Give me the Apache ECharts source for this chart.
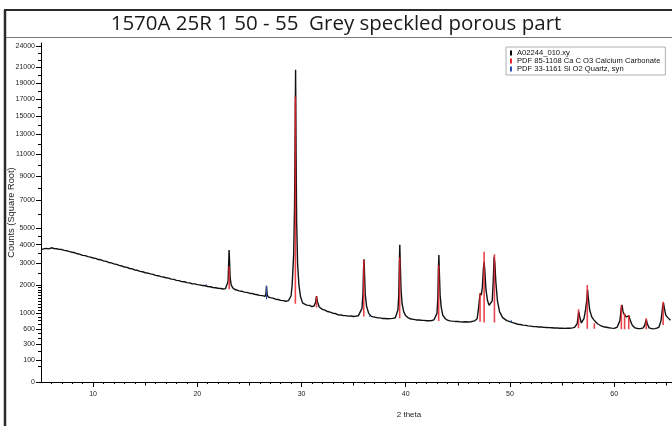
<!DOCTYPE html>
<html><head><meta charset="utf-8">
<script src="https://cdn.jsdelivr.net/npm/echarts@6/dist/echarts.min.js"></script>
<style>html,body{margin:0;padding:0;background:#fff}#c{width:672px;height:426px}</style>
</head><body><div id="c"></div>
<script>
// ---- data ----
const titleText = '1570A 25R 1 50 - 55  Grey speckled porous part';
const scanName = 'A02244_010.xy';
const calciteName = 'PDF 85-1108 Ca C O3 Calcium Carbonate';
const quartzName = 'PDF 33-1161 Si O2 Quartz, syn';

// measured scan: [2theta, counts]
const scan = [
[5.00,3720],[5.25,3765],[5.50,3790],[5.75,3760],[6.00,3825],[6.25,3785],[6.50,3770],[6.75,3735],[7.00,3725],[7.25,3680],
[7.50,3655],[7.75,3610],[8.00,3575],[8.25,3545],[8.50,3490],[8.75,3460],[9.00,3405],[9.25,3390],[9.50,3335],[9.75,3310],
[10.00,3265],[10.25,3245],[10.50,3185],[10.75,3170],[11.00,3115],[11.25,3090],[11.50,3035],[11.75,3010],[12.00,2965],[12.25,2935],
[12.50,2885],[12.75,2860],[13.00,2805],[13.25,2790],[13.50,2735],[13.75,2720],[14.00,2665],[14.25,2650],[14.50,2600],[14.75,2580],
[15.00,2535],[15.25,2520],[15.50,2480],[15.75,2460],[16.00,2415],[16.25,2400],[16.50,2360],[16.75,2340],[17.00,2305],[17.25,2290],
[17.50,2245],[17.75,2235],[18.00,2195],[18.25,2180],[18.50,2140],[18.75,2135],[19.00,2095],[19.25,2085],[19.50,2050],[19.75,2045],
[20.00,2015],[20.25,2005],[20.50,1975],[20.75,1965],[20.86,1990],[21.00,1935],[21.25,1925],[21.50,1895],[21.75,1885],[22.00,1865],
[22.25,1855],[22.50,1835],[22.70,1850],[22.85,1900],[22.95,2150],[23.00,2850],[23.05,3700],[23.10,3000],[23.15,2300],[23.25,2000],
[23.40,1880],[23.60,1815],[23.80,1795],[24.00,1765],[24.25,1750],[24.50,1715],[24.75,1705],[25.00,1675],[25.25,1665],[25.50,1635],
[25.75,1615],[26.00,1595],[26.25,1585],[26.50,1555],[26.58,1650],[26.64,1960],[26.70,1620],[26.80,1535],[27.00,1510],[27.25,1495],
[27.50,1455],[27.75,1445],[28.00,1415],[28.25,1405],[28.50,1385],[28.75,1405],[28.90,1450],[29.00,1580],[29.10,2000],[29.25,3500],
[29.33,6500],[29.38,12000],[29.43,20700],[29.48,11000],[29.53,5500],[29.62,3000],[29.75,2000],[29.90,1550],[30.10,1330],[30.30,1285],
[30.50,1255],[30.75,1245],[31.00,1205],[31.20,1225],[31.35,1350],[31.44,1570],[31.52,1380],[31.70,1195],[32.00,1120],[32.25,1095],
[32.50,1055],[32.75,1035],[33.00,1005],[33.25,995],[33.50,960],[33.75,955],[34.00,940],[34.25,935],[34.50,920],[34.75,925],
[35.00,912],[35.25,922],[35.45,930],[35.60,955],[35.80,1150],[35.90,1700],[35.95,2700],[36.00,3200],[36.05,2400],[36.12,1600],
[36.25,1200],[36.45,1000],[36.54,960],[36.70,915],[37.00,895],[37.25,878],[37.50,872],[37.75,858],[38.00,857],[38.25,848],
[38.50,852],[38.75,860],[39.00,875],[39.10,900],[39.25,1100],[39.33,1600],[39.38,2800],[39.43,4000],[39.48,2900],[39.55,1800],
[39.65,1300],[39.80,1050],[40.00,930],[40.25,872],[40.50,843],[40.75,832],[41.00,818],[41.25,816],[41.50,808],[41.75,806],
[42.00,798],[42.25,797],[42.50,802],[42.70,818],[42.85,842],[43.00,1000],[43.08,1500],[43.13,2600],[43.18,3430],[43.23,2500],
[43.30,1600],[43.40,1200],[43.55,950],[43.80,850],[44.00,812],[44.25,794],[44.50,786],[44.75,779],[45.00,776],[45.25,768],
[45.50,766],[45.75,771],[46.00,764],[46.25,772],[46.40,780],[46.60,792],[46.85,850],[47.00,1200],[47.10,1550],[47.17,1680],
[47.25,1600],[47.35,1900],[47.45,2700],[47.52,3070],[47.58,2700],[47.70,1800],[47.85,1400],[48.00,1250],[48.15,1200],[48.30,1400],
[48.40,2200],[48.48,3330],[48.55,3000],[48.65,2100],[48.80,1400],[49.00,1050],[49.30,880],[49.70,800],[50.00,772],[50.25,748],
[50.50,732],[50.75,708],[51.00,702],[51.25,688],[51.50,682],[51.75,668],[52.00,662],[52.25,652],[52.50,651],[52.75,643],
[53.00,641],[53.25,633],[53.50,632],[53.75,627],[54.00,626],[54.25,619],[54.50,622],[54.75,614],[55.00,613],[55.25,610],
[55.50,616],[55.75,613],[56.00,621],[56.20,632],[56.45,720],[56.60,1050],[56.70,900],[56.85,740],[56.96,730],[57.10,850],
[57.25,1100],[57.38,1450],[57.45,1800],[57.52,1500],[57.65,1100],[57.85,900],[58.05,820],[58.20,800],[58.40,720],[58.60,690],
[58.80,662],[59.00,648],[59.25,636],[59.50,624],[59.75,616],[60.00,611],[60.15,620],[60.30,640],[60.55,800],[60.68,1150],
[60.75,1260],[60.85,1050],[60.95,980],[61.05,1020],[61.15,900],[61.30,880],[61.42,930],[61.55,800],[61.75,680],[62.00,622],
[62.25,608],[62.50,604],[62.65,610],[62.80,622],[62.95,700],[63.08,830],[63.18,720],[63.35,622],[63.50,606],[63.70,600],
[63.90,604],[64.10,616],[64.30,642],[64.50,800],[64.65,1200],[64.73,1330],[64.82,1150],[64.95,950],[65.15,880],[65.40,810]
];

// reference patterns (stick lines): position, base counts, top counts
const calciteTheta = [23.06, 29.41, 31.44, 35.97, 39.42, 43.16, 47.13, 47.52, 48.51, 56.58, 57.42, 58.10, 60.69, 61.00, 61.40, 63.08, 64.70];
const calciteBase  = [1830, 1300, 1180, 910, 860, 790, 770, 750, 750, 612, 600, 600, 590, 590, 590, 590, 690];
const calciteTop   = [2850, 17300, 1560, 3160, 3300, 2900, 1670, 3600, 3460, 1120, 2000, 730, 1260, 1000, 950, 860, 1370];

const quartzTheta = [20.86, 26.64, 36.54, 50.14];
const quartzBase  = [1960, 1450, 900, 760];
const quartzTop   = [2030, 1960, 950, 810];

// axes
const yTickLabels = [0, 100, 300, 600, 1000, 2000, 3000, 4000, 5000, 7000, 9000, 11000, 13000, 15000, 17000, 19000, 21000, 24000];
const yMinorTicks = [50, 200, 400, 500, 700, 800, 900, 1100, 1200, 1300, 1400, 1500, 1600, 1700, 1800, 1900, 2500, 3500, 4500,
  6000, 8000, 10000, 12000, 14000, 16000, 18000, 20000, 22000, 23000];
const yTopCounts = 24400;
const xMajorTicks = [10, 20, 30, 40, 50, 60];
const xMidTicks = [15, 25, 35, 45, 55, 65];
const xMinorTicks = [6,7,8,9,11,12,13,14,16,17,18,19,21,22,23,24,26,27,28,29,31,32,33,34,36,37,38,39,41,42,43,44,46,47,48,49,51,52,53,54,56,57,58,59,61,62,63,64];
const xMin = 5, xMax = 65.55;

// ---- build ----
const sq = Math.sqrt;
const curve = scan.map(p => [p[0], sq(p[1])]);
function sticks(th, b, t) {
  const out = [];
  th.forEach((x, i) => { out.push([x, sq(b[i])], [x, sq(t[i])], [x, '-']); });
  return out;
}
const fontA = 'Liberation Sans, Arial, sans-serif';
const chart = echarts.init(document.getElementById('c'), null, {renderer: 'canvas'});
const xBase = {type: 'value', min: xMin, max: xMax, position: 'bottom', splitLine: {show: false}};
const yBase = {type: 'value', min: 0, max: sq(yTopCounts), position: 'left', splitLine: {show: false}};
chart.setOption({
  animation: false,
  backgroundColor: '#fff',
  title: {text: titleText, left: 'center', top: 9,
    textStyle: {fontFamily: 'Open Sans', fontSize: 20.5, fontWeight: 'normal', color: '#1a1a1a'}},
  grid: {left: 41, right: 0, top: 43, bottom: 44, containLabel: false, outerBoundsMode: 'none'},
  legend: {
    data: [scanName, calciteName, quartzName],
    orient: 'vertical', left: 506, top: 47, icon: 'rect', itemWidth: 2, itemHeight: 5, itemGap: 0,
    padding: [2, 5, 2, 4], backgroundColor: '#fff', borderColor: '#b0b0b0', borderWidth: 1,
    textStyle: {fontFamily: fontA, fontSize: 7.6, color: '#111', lineHeight: 6.5}
  },
  xAxis: [
    Object.assign({}, xBase, {
      axisLine: {show: true, onZero: false, lineStyle: {color: '#000', width: 1}},
      axisTick: {show: true, length: 5, customValues: xMajorTicks, lineStyle: {color: '#000'}},
      axisLabel: {customValues: xMajorTicks, fontSize: 7, fontFamily: fontA, color: '#222', margin: 9}
    }),
    Object.assign({}, xBase, {
      axisLine: {show: false, onZero: false},
      axisTick: {show: true, length: 3.5, customValues: xMidTicks, lineStyle: {color: '#000'}},
      axisLabel: {show: false}
    }),
    Object.assign({}, xBase, {
      axisLine: {show: false, onZero: false},
      axisTick: {show: true, length: 2, customValues: xMinorTicks, lineStyle: {color: '#000'}},
      axisLabel: {show: false}
    })
  ],
  yAxis: [
    Object.assign({}, yBase, {
      axisLine: {show: true, onZero: false, lineStyle: {color: '#000', width: 1}},
      axisTick: {show: true, length: 5, customValues: yTickLabels.map(sq), lineStyle: {color: '#000'}},
      axisLabel: {customValues: yTickLabels.map(sq), formatter: v => String(Math.round(v * v)),
        fontSize: 7, fontFamily: fontA, color: '#222', margin: 6},
      name: 'Counts (Square Root)', nameLocation: 'middle', nameGap: 25, nameMoveOverlap: false,
      nameTextStyle: {fontSize: 9.3, fontFamily: fontA, color: '#222'}
    }),
    Object.assign({}, yBase, {
      axisLine: {show: false, onZero: false},
      axisTick: {show: true, length: 3, customValues: yMinorTicks.map(sq), lineStyle: {color: '#000'}},
      axisLabel: {show: false}
    })
  ],
  series: [
    {name: scanName, type: 'line', data: curve, symbol: 'none', color: '#000',
      lineStyle: {color: '#111', width: 1.4}, z: 2},
    {name: calciteName, type: 'line', data: sticks(calciteTheta, calciteBase, calciteTop), symbol: 'none',
      color: '#e8242c', connectNulls: false, lineStyle: {color: 'rgba(232,36,44,0.85)', width: 1.6}, z: 3},
    {name: quartzName, type: 'line', data: sticks(quartzTheta, quartzBase, quartzTop), symbol: 'none',
      color: '#2a4fb0', connectNulls: false, lineStyle: {color: '#2a4fb0', width: 1}, z: 3}
  ],
  graphic: [
    {type: 'line', shape: {x1: 5, y1: 10, x2: 5, y2: 426}, style: {stroke: '#2b2b2b', lineWidth: 2.5}},
    {type: 'line', shape: {x1: 4, y1: 10, x2: 672, y2: 10}, style: {stroke: '#2b2b2b', lineWidth: 2}},
    {type: 'line', shape: {x1: 6, y1: 37.5, x2: 672, y2: 37.5}, style: {stroke: '#777', lineWidth: 1}},
    {type: 'text', x: 409, y: 415, style: {text: '2 theta', fontSize: 8, fontFamily: fontA, fill: '#222',
      textAlign: 'center', textVerticalAlign: 'middle'}}
  ]
});
</script></body></html>
